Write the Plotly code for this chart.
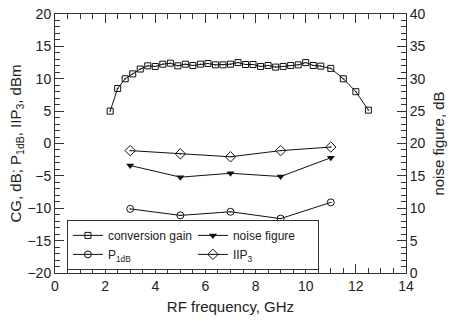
import plotly.graph_objects as go

# conversion gain (dB), left axis
cg_freq = [2.2, 2.5, 2.8, 3.1, 3.4, 3.7, 4.0, 4.3, 4.6, 4.9, 5.2, 5.5, 5.8, 6.1, 6.4, 6.7,
           7.0, 7.3, 7.6, 7.9, 8.2, 8.5, 8.8, 9.1, 9.4, 9.7, 10.0, 10.3, 10.6, 11.0, 11.5, 12.0, 12.5]
cg_vals = [5.0, 8.5, 10.0, 10.75, 11.5, 12.0, 11.9, 12.25, 12.4, 12.0, 12.25, 12.05, 12.25, 12.35,
           12.15, 12.15, 12.25, 12.5, 12.2, 12.2, 11.9, 12.05, 11.8, 11.9, 12.05, 12.15, 12.5, 12.05,
           11.95, 11.6, 10.0, 8.0, 5.15]

# discrete measurement frequencies
meas_freq = [3, 5, 7, 9, 11]
nf_vals = [16.6, 14.8, 15.4, 14.9, 17.8]      # noise figure (dB), right axis
p1db_vals = [-10.1, -11.1, -10.55, -11.6, -9.1]  # P1dB (dBm)
iip3_vals = [-1.1, -1.6, -2.05, -1.1, -0.55]     # IIP3 (dBm)

FONT = "Liberation Sans, Arial, Helvetica, sans-serif"
BLACK = "#111111"

fig = go.Figure()
fig.add_trace(go.Scatter(x=cg_freq, y=cg_vals, name="conversion gain", mode="lines+markers",
                         line=dict(color=BLACK, width=1),
                         marker=dict(symbol="square-open-dot", size=6, color=BLACK,
                                     line=dict(width=1, color=BLACK))))
fig.add_trace(go.Scatter(x=meas_freq, y=nf_vals, name="noise figure", mode="lines+markers",
                         yaxis="y2", line=dict(color=BLACK, width=1),
                         marker=dict(symbol="triangle-down", size=7, color=BLACK)))
fig.add_trace(go.Scatter(x=meas_freq, y=p1db_vals, name="P<sub>1dB</sub>", mode="lines+markers",
                         line=dict(color=BLACK, width=1),
                         marker=dict(symbol="circle-open-dot", size=7, color=BLACK,
                                     line=dict(width=1, color=BLACK))))
fig.add_trace(go.Scatter(x=meas_freq, y=iip3_vals, name="IIP<sub>3</sub>", mode="lines+markers",
                         line=dict(color=BLACK, width=1),
                         marker=dict(symbol="diamond-open-dot", size=8, color=BLACK,
                                     line=dict(width=1, color=BLACK))))

axis_common = dict(showgrid=False, zeroline=False, showline=True, linecolor="#333333",
                   linewidth=1, ticks="inside", ticklen=9, tickwidth=1, tickcolor="#333333",
                   automargin=False,
                   tickfont=dict(family=FONT, size=14, color="#222222"))

fig.update_layout(
    width=456, height=324,
    margin=dict(l=55, r=50, t=14, b=51),
    paper_bgcolor="white", plot_bgcolor="white",
    font=dict(family=FONT, size=14, color="#222222"),
    showlegend=True,
    xaxis=dict(range=[0, 14], dtick=2, tick0=0, mirror="ticks",
               minor=dict(ticks="inside", dtick=0.5, ticklen=5, tickcolor="#333333"),
               title=dict(text="RF frequency, GHz", font=dict(family=FONT, size=15), standoff=8),
               **axis_common),
    yaxis=dict(range=[-20, 20], dtick=5, tick0=0, mirror=True,
               minor=dict(ticks="inside", dtick=1, ticklen=5, tickcolor="#333333"),
               title=dict(text="CG, dB; P<sub>1dB</sub>, IIP<sub>3</sub>, dBm",
                          font=dict(family=FONT, size=15), standoff=2),
               **axis_common),
    yaxis2=dict(range=[0, 40], dtick=5, tick0=0, overlaying="y", side="right",
                minor=dict(ticks="inside", dtick=1, ticklen=5, tickcolor="#333333"),
                title=dict(text="noise figure, dB", font=dict(family=FONT, size=15), standoff=8),
                **axis_common),
    legend=dict(orientation="h", x=0.034, y=0.205, xanchor="left", yanchor="top",
                entrywidth=80, entrywidthmode="pixels", itemwidth=30,
                bgcolor="white", bordercolor="#333333", borderwidth=1,
                font=dict(family=FONT, size=12, color="#222222"),
                tracegroupgap=0),
)

fig.write_html("out.html", config={"displayModeBar": False},
               post_script="document.body.style.margin='0';")
